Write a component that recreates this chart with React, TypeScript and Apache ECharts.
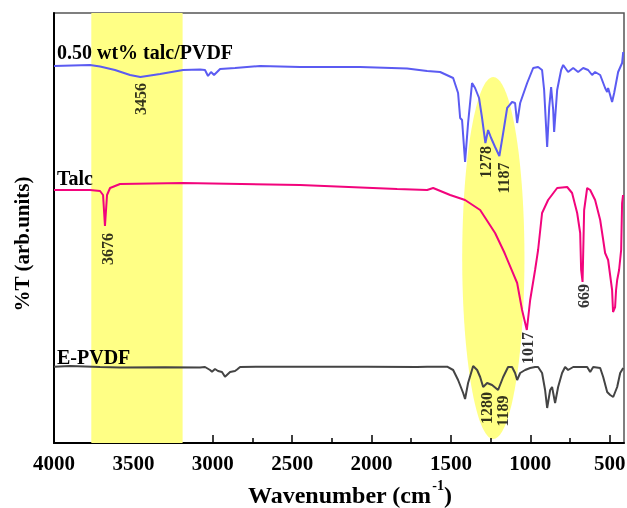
import React, { useEffect, useRef } from "react";
import * as echarts from "echarts";

// 0.50 wt% talc/PVDF
const compositeWn = [4000, 3773, 3710, 3616, 3521, 3456, 3332, 3187, 3080, 3049, 3030, 3011, 2992, 2954, 2860, 2702, 2450, 2072, 1776, 1650, 1568, 1486, 1455, 1442, 1430, 1411, 1392, 1367, 1348, 1323, 1304, 1283, 1266, 1247, 1222, 1195, 1171, 1146, 1115, 1096, 1083, 1064, 1020, 982, 951, 926, 913, 894, 881, 869, 856, 850, 831, 806, 793, 762, 730, 699, 667, 636, 611, 592, 560, 529, 516, 510, 485, 472, 447, 422, 415];
const compositeT = [377, 378, 376.5, 373, 368, 366, 369, 373, 373.5, 373, 367, 371, 368, 374, 375, 377, 376, 376, 374.5, 372, 371, 365, 350, 325, 323, 281, 320, 360, 355, 345, 325, 300, 313, 305, 296, 287, 310, 335, 341, 340, 320, 340, 360, 375, 376, 373, 353, 296, 336, 356, 333, 311, 353, 373, 378, 371, 375, 371, 375, 373, 368, 371, 368, 355, 351, 355, 341, 350, 371, 380, 391];

// Talc
const talcWn = [4000, 3773, 3710, 3691, 3679, 3666, 3647, 3584, 3187, 2450, 1839, 1650, 1612, 1505, 1411, 1316, 1222, 1165, 1083, 1052, 1022, 1001, 970, 951, 926, 888, 831, 768, 737, 705, 686, 680, 671, 661, 642, 623, 592, 560, 541, 529, 510, 485, 479, 466, 460, 453, 441, 428, 422, 416];
const talcT = [253, 253, 252, 248, 217, 248, 255, 259, 260, 258, 254, 253, 255, 248, 243, 233, 210, 191, 160, 133, 113, 143, 173, 193, 230, 243, 255, 256, 250, 230, 210, 173, 161, 233, 255, 253, 243, 223, 203, 190, 183, 153, 131, 136, 153, 163, 173, 193, 240, 248];

// E-PVDF
const pvdfWn = [4000, 3899, 3710, 3584, 3301, 3080, 3049, 3017, 3005, 2986, 2967, 2942, 2923, 2891, 2860, 2847, 2828, 2702, 2028, 1713, 1650, 1524, 1486, 1455, 1423, 1411, 1392, 1360, 1335, 1316, 1297, 1272, 1241, 1203, 1171, 1140, 1115, 1096, 1083, 1064, 1033, 1001, 970, 951, 926, 907, 894, 875, 863, 844, 825, 800, 781, 762, 730, 642, 623, 604, 560, 541, 516, 497, 478, 453, 434, 415];
const pvdfT = [76.3, 77, 76, 75.5, 75.7, 75.5, 76, 73, 71.3, 74, 72, 71, 66.3, 71, 72, 73.5, 76, 76.3, 76.3, 76, 76.3, 76.3, 73, 63, 50, 44, 60, 77, 73, 66, 56, 60, 58, 53, 66, 76, 76, 70, 63, 70, 73, 75, 76, 76, 70, 53, 35, 53, 56, 40, 56, 70, 76, 73, 76, 76, 71, 76, 75, 66, 51, 48, 46, 56, 70, 75];

// Peak annotations: text, wavenumber position, vertical position (arb. units)
const peakTexts = ["3456", "3676", "1278", "1187", "1017", "669", "1280", "1189"];
const peakWn = [3456, 3660, 1285, 1171, 1020, 667, 1278, 1178];
const peakY = [344, 194, 281, 265, 95, 147, 35, 32];

// Sample names and label heights (arb. units)
const sampleNames = ["0.50 wt% talc/PVDF", "Talc", "E-PVDF"];
const sampleLabelY = [391, 265, 86];

// Highlight regions
const bandFrom = 3765;
const bandTo = 3190;
const ellipseCenterWn = 1233;
const ellipseHalfWidthWn = 196;
const ellipseCenterY = 185;
const ellipseHalfHeight = 181;

// Axis ticks
const majorTicks = [4000, 3500, 3000, 2500, 2000, 1500, 1000, 500];
const minorTicks = [3750, 3250, 2750, 2250, 1750, 1250, 750];

const FONT = "'Liberation Serif', 'Times New Roman', serif";

const zip = (a: number[], b: number[]) => a.map((v, i) => [v, b[i]]);

function measure(text: string, font: string): number {
  const ctx = document.createElement("canvas").getContext("2d");
  if (!ctx) return text.length * 10;
  ctx.font = font;
  return ctx.measureText(text).width;
}

export default function App() {
  const ref = useRef<HTMLDivElement>(null);
  useEffect(() => {
    if (!ref.current) return;
    const chart = echarts.init(ref.current, undefined, { renderer: "svg" });
    const xCommon = {
      type: "value" as const,
      inverse: true,
      min: 410,
      max: 4000,
      position: "bottom" as const,
      splitLine: { show: false },
    };
    chart.setOption({
      animation: false,
      grid: {
        left: 54,
        right: 3,
        top: 13,
        bottom: 65,
        show: true,
        borderColor: "#555",
        borderWidth: 1.5,
        containLabel: false,
        outerBoundsMode: "none",
      },
      xAxis: [
        {
          ...xCommon,
          axisLine: { show: true, lineStyle: { color: "#000", width: 2 } },
          axisTick: { show: true, inside: true, length: 8, lineStyle: { color: "#000", width: 1.5 }, customValues: majorTicks },
          axisLabel: {
            show: true,
            customValues: majorTicks,
            formatter: (v: number) => String(v),
            margin: 9,
            color: "#000",
            fontFamily: FONT,
            fontWeight: "bold",
            fontSize: 21,
          },
        },
        {
          ...xCommon,
          axisLine: { show: false },
          axisTick: { show: true, inside: true, length: 5, lineStyle: { color: "#000", width: 1.5 }, customValues: minorTicks },
          axisLabel: { show: false },
        },
      ],
      yAxis: {
        type: "value",
        min: 0,
        max: 430,
        axisLine: { show: true, lineStyle: { color: "#000", width: 2 } },
        axisTick: { show: false },
        axisLabel: { show: false },
        splitLine: { show: false },
      },
      series: [
        {
          name: sampleNames[0],
          type: "line",
          data: zip(compositeWn, compositeT),
          showSymbol: false,
          lineStyle: { color: "#5b5bf2", width: 2 },
          z: 3,
          markArea: {
            silent: true,
            itemStyle: { color: "#ffff85" },
            data: [[{ xAxis: bandFrom }, { xAxis: bandTo }]],
          },
        },
        {
          name: sampleNames[1],
          type: "line",
          data: zip(talcWn, talcT),
          showSymbol: false,
          lineStyle: { color: "#f2047c", width: 2 },
          z: 3,
        },
        {
          name: sampleNames[2],
          type: "line",
          data: zip(pvdfWn, pvdfT),
          showSymbol: false,
          lineStyle: { color: "#444444", width: 2 },
          z: 3,
        },
        {
          name: "peaks",
          type: "scatter",
          symbolSize: 0,
          silent: true,
          z: 5,
          data: peakTexts.map((t, i) => ({ value: [peakWn[i], peakY[i]], name: t })),
          label: {
            show: true,
            position: "inside",
            rotate: 90,
            formatter: (p: any) => p.name,
            color: "#000",
            fontFamily: FONT,
            fontWeight: "bold",
            fontSize: 16,
          },
        },
      ],
    });

    const c = chart.convertToPixel({ xAxisIndex: 0, yAxisIndex: 0 }, [ellipseCenterWn, ellipseCenterY]) as number[];
    const e = chart.convertToPixel({ xAxisIndex: 0, yAxisIndex: 0 }, [ellipseCenterWn - ellipseHalfWidthWn, ellipseCenterY + ellipseHalfHeight]) as number[];
    const x0 = chart.convertToPixel({ xAxisIndex: 0 }, 4000) as number;
    const labelTexts = sampleNames.map((name, i) => {
      const py = chart.convertToPixel({ yAxisIndex: 0 }, sampleLabelY[i]) as number;
      return {
        type: "text",
        x: x0 + 3,
        y: py,
        z: 10,
        style: {
          text: name,
          fill: "#000",
          font: `bold 20px ${FONT}`,
          align: "left",
          verticalAlign: "middle",
        },
      };
    });

    // x-axis title with a superscript, laid out piece by piece and centred
    const mainFont = `bold 24px ${FONT}`;
    const supFont = `bold 14px ${FONT}`;
    const t1 = "Wavenumber (cm";
    const t2 = "-1";
    const t3 = ")";
    const w1 = measure(t1, mainFont);
    const w2 = measure(t2, supFont) + 1;
    const w3 = measure(t3, mainFont);
    const titleCenter = 350;
    const titleY = 495;
    const startX = titleCenter - (w1 + w2 + w3) / 2;

    chart.setOption({
      graphic: [
        {
          type: "ellipse",
          z: 0,
          silent: true,
          shape: { cx: c[0], cy: c[1], rx: Math.abs(e[0] - c[0]), ry: Math.abs(c[1] - e[1]) },
          style: { fill: "#ffff85" },
        },
        ...labelTexts,
        {
          type: "text",
          x: 22,
          y: 244,
          rotation: Math.PI / 2,
          z: 10,
          style: {
            text: "%T (arb.units)",
            fill: "#000",
            font: `bold 21px ${FONT}`,
            align: "center",
            verticalAlign: "middle",
          },
        },
        {
          type: "text",
          x: startX,
          y: titleY,
          z: 10,
          style: { text: t1, fill: "#000", font: mainFont, align: "left", verticalAlign: "middle" },
        },
        {
          type: "text",
          x: startX + w1 + 1,
          y: titleY - 10,
          z: 10,
          style: { text: t2, fill: "#000", font: supFont, align: "left", verticalAlign: "middle" },
        },
        {
          type: "text",
          x: startX + w1 + w2,
          y: titleY,
          z: 10,
          style: { text: t3, fill: "#000", font: mainFont, align: "left", verticalAlign: "middle" },
        },
      ],
    });
    return () => chart.dispose();
  }, []);
  return <div ref={ref} style={{ position: "fixed", left: 0, top: 0, width: 627, height: 508 }} />;
}
